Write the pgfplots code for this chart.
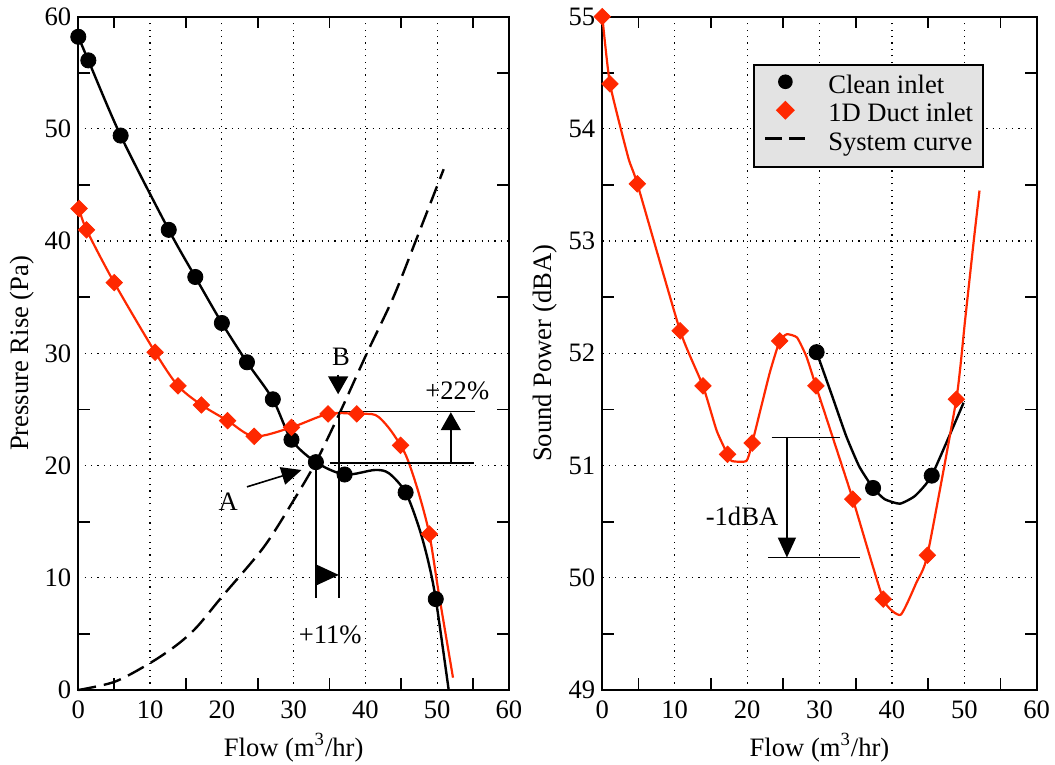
\documentclass[border=0pt]{standalone}
\usepackage{fontspec}
\setmainfont{Liberation Serif}
\usepackage{pgfplots}
\pgfplotsset{compat=1.18}
\usetikzlibrary{arrows.meta}

\definecolor{duct}{RGB}{255,40,0}
\newcommand\lblfont{\fontsize{13.3}{16}\selectfont}
\tikzset{ann/.style={black, line width=0.8pt},
         tk/.style={black, line width=0.9pt}}

% Curve shapes and measured points
\pgfplotstableread{
x y
0 58.2
1.4 56.1
5.9 49.4
12.6 41.0
16.3 36.8
20.0 32.7
23.5 29.2
27.1 25.9
29.7 22.3
33.1 20.3
37.1 19.2
45.6 17.6
49.8 8.1
}\pclean
\pgfplotstableread{
x y
0 58.2
1.4 56.1
5.9 49.4
12.6 41.0
16.3 36.8
20.0 32.7
23.5 29.2
27.1 25.9
29.7 22.3
33.1 20.3
37.1 19.2
41.3 19.6
43.3 19.3
45.6 17.6
47.4 14.6
48.7 11.6
49.8 8.1
51.6 0
}\pcleanline
\pgfplotstableread{
x y
0.1 42.9
1.15 41.0
5.0 36.3
10.7 30.1
13.9 27.1
17.15 25.4
20.8 24.0
24.5 22.6
29.7 23.4
34.8 24.6
38.8 24.6
44.9 21.8
48.9 13.9
}\pduct
\pgfplotstableread{
x y
0.1 42.9
1.15 41.0
5.0 36.3
10.7 30.1
13.9 27.1
17.15 25.4
20.8 24.0
24.5 22.6
29.7 23.4
34.8 24.6
38.8 24.6
41.4 24.5
43.2 23.4
44.9 21.8
45.9 20.5
47.4 17.6
48.9 13.9
50.2 8.7
52.2 1.1
}\pductline
\pgfplotstableread{
x y
0 0
5.1 0.74
10 2.4
13.7 4.0
16.5 5.6
20 8.3
25.8 12.7
30 16.9
33.1 20.3
36.5 24.8
40.2 30.0
43.9 35.0
47.0 40.0
50.9 46.4
}\psystem
\pgfplotstableread{
x y
29.6 52.01
37.4 50.80
45.5 50.91
}\sclean
\pgfplotstableread{
x y
29.6 52.01
31.8 51.61
33.7 51.26
35.5 50.99
37.4 50.80
39.0 50.70
41.1 50.66
43.2 50.73
45.5 50.91
49.9 51.56
}\scleanline
\pgfplotstableread{
x y
0 55.0
1.06 54.4
4.84 53.51
10.75 52.2
13.9 51.71
17.3 51.10
20.7 51.2
24.5 52.11
29.5 51.71
34.6 50.70
38.8 49.81
44.9 50.20
48.9 51.59
}\sduct
\pgfplotstableread{
x y
0 55.0
1.06 54.4
3.6 53.74
4.84 53.51
10.75 52.2
13.9 51.71
15.8 51.31
17.3 51.10
17.9 51.04
19.9 51.04
20.7 51.2
23.1 51.82
24.5 52.11
25.5 52.17
26.9 52.14
28.2 51.97
29.5 51.71
34.6 50.70
38.8 49.81
41.2 49.67
43.4 49.96
44.9 50.20
48.9 51.59
50.1 52.29
51.3 53.0
52.1 53.45
}\sductline

\pgfplotsset{
  fanaxis/.style={
    scale only axis, height=336.7pt,
    xmin=0, xmax=60, xtick={0,10,...,60},
    tick align=inside,
    major tick length=0pt,
    xmajorgrids, ymajorgrids,
    major grid style={draw=black, line width=0.6pt, dash pattern=on 0.6pt off 2.6pt},
    axis line style={black, line width=0.9pt},
    tick label style={font=\lblfont},
    label style={font=\lblfont},
    /pgf/number format/assume math mode=true,
    xticklabel style={yshift=-2pt},
    clip=false,
    xlabel={Flow (m\textsuperscript{3}/hr)},
    xlabel style={at={(axis description cs:0.5,-0.0854)}, anchor=center},
  },
  cleanmk/.style={only marks, mark=*, mark size=3.8pt, black},
  ductmk/.style={only marks, mark=square*, mark size=2.9pt, duct, mark options={rotate=45}},
  cleanln/.style={black, line width=1.2pt, no marks},
  ductln/.style={duct, line width=1.1pt, no marks},
}

\begin{document}
\begin{tikzpicture}
\path[use as bounding box] (-39.15pt,-37.5pt) rectangle (488.35pt,345pt);

% Fan pressure curves
\begin{axis}[fanaxis, at={(0pt,0pt)}, anchor=south west, width=215.35pt,
  ymin=0, ymax=60, ytick={0,10,...,60},
  ylabel={Pressure Rise (Pa)},
  ylabel style={at={(axis description cs:-0.130,0.5)}, anchor=center}]
% inner tick marks halfway between the grid lines
\pgfplotsinvokeforeach{5,15,25,35,45,55}{
  \draw[tk] (axis cs:#1,0) -- ++(0pt,5.8pt);
  \draw[tk] (axis cs:#1,60) -- ++(0pt,-5.8pt);
  \draw[tk] (axis cs:0,#1) -- ++(5.8pt,0pt);
  \draw[tk] (axis cs:60,#1) -- ++(-5.8pt,0pt);
}
\addplot[black, line width=1.2pt, no marks, smooth, dash pattern=on 9pt off 4pt] table {\psystem};
\addplot[cleanln, smooth] table {\pcleanline};
\addplot[cleanmk] table {\pclean};
\addplot[ductln, smooth] table {\pductline};
\addplot[ductmk] table {\pduct};

% operating points A and B
\draw[ann] (axis cs:36.3,24.8) -- (axis cs:55.3,24.8);
\draw[ann] (axis cs:35.0,20.2) -- (axis cs:55.1,20.2);
\draw[ann] (axis cs:33.1,20.3) -- (axis cs:33.1,8.2);
\draw[ann] (axis cs:36.3,24.8) -- (axis cs:36.3,8.2);
\draw[ann, -{Triangle[length=11pt,width=10pt]}] (axis cs:33.1,10.25) -- (axis cs:36.3,10.25);
\draw[ann, -{Triangle[length=9pt,width=10pt]}] (axis cs:51.9,20.2) -- (axis cs:51.9,24.75);
\draw[ann, -{Triangle[length=9pt,width=10pt]}] (axis cs:36.2,28.1) -- (axis cs:36.2,26.35);
\draw[ann, -{Triangle[length=10pt,width=9pt]}] (axis cs:23.5,18.1) -- (axis cs:31.1,19.6);
\node[font=\lblfont] at (axis cs:36.6,29.7) {B};
\node[font=\lblfont] at (axis cs:20.9,16.8) {A};
\node[font=\lblfont] at (axis cs:52.8,26.7) {+22\%};
\node[font=\lblfont] at (axis cs:35.1,4.9) {+11\%};
\end{axis}

% Sound power curves
\begin{axis}[fanaxis, at={(262pt,0pt)}, anchor=south west, width=217.2pt,
  ymin=49, ymax=55, ytick={49,50,...,55},
  ylabel={Sound Power (dBA)},
  ylabel style={at={(axis description cs:-0.131,0.5)}, anchor=center},
  legend cell align=left,
  legend style={at={(0.3476,0.9295)}, anchor=north west, fill=black!11,
    draw=black, line width=0.9pt, inner xsep=5pt, inner ysep=4.3pt,
    row sep=0pt, font=\lblfont,
    nodes={inner sep=0pt, text height=10pt, text depth=4.2pt}}]
\pgfplotsinvokeforeach{5,15,25,35,45,55}{
  \draw[tk] (axis cs:#1,49) -- ++(0pt,5.8pt);
  \draw[tk] (axis cs:#1,55) -- ++(0pt,-5.8pt);
}
\pgfplotsinvokeforeach{49.5,50.5,51.5,52.5,53.5,54.5}{
  \draw[tk] (axis cs:0,#1) -- ++(5.8pt,0pt);
  \draw[tk] (axis cs:60,#1) -- ++(-5.8pt,0pt);
}
\addplot[cleanln, smooth, tension=0.3, forget plot] table {\scleanline};
\addplot[cleanmk, forget plot] table {\sclean};
\addplot[ductln, smooth, tension=0.3, forget plot] table {\sductline};
\addplot[ductmk, forget plot] table {\sduct};

\draw[ann] (axis cs:23.4,51.25) -- (axis cs:32.8,51.25);
\draw[ann] (axis cs:22.9,50.18) -- (axis cs:35.6,50.18);
\draw[ann, -{Triangle[length=10pt,width=9pt]}] (axis cs:25.5,51.25) -- (axis cs:25.5,50.18);
\node[font=\lblfont] at (axis cs:19.3,50.55) {-1dBA};

\addlegendimage{legend image code/.code={
  \draw[black, mark=*, mark size=3.2pt, only marks] plot coordinates {(10pt,3pt)};
  \path (0pt,0pt) (31pt,0pt);}}
\addlegendentry{Clean inlet}
\addlegendimage{legend image code/.code={
  \draw[duct, mark=square*, mark size=2.9pt, mark options={rotate=45}, only marks] plot coordinates {(10pt,3pt)};
  \path (0pt,0pt) (31pt,0pt);}}
\addlegendentry{1D Duct inlet}
\addlegendimage{legend image code/.code={
  \draw[black, line width=1.2pt, dash pattern=on 8.5pt off 3.5pt] (0pt,3pt) -- (20pt,3pt);
  \path (31pt,0pt);}}
\addlegendentry{System curve}
\end{axis}
\end{tikzpicture}
\end{document}
